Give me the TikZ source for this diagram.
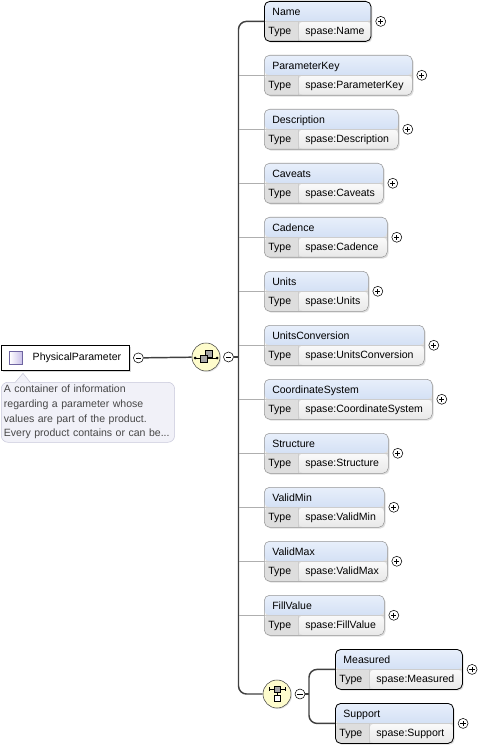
\documentclass[tikz,border=0pt]{standalone}
\usepackage{fontspec}
\setmainfont{Liberation Sans}
\definecolor{xsspine}{RGB}{64,64,64}
\definecolor{xsstub}{RGB}{175,175,175}
\definecolor{xsborder}{RGB}{150,150,150}
\definecolor{xshdrtop}{RGB}{232,239,251}
\definecolor{xshdrbot}{RGB}{192,210,238}
\definecolor{xstype}{RGB}{222,222,222}
\definecolor{xsvaltop}{RGB}{250,250,250}
\definecolor{xsvalbot}{RGB}{232,232,232}
\definecolor{xsrow}{RGB}{205,205,205}
\definecolor{xsyellow}{RGB}{254,252,204}
\definecolor{xslav}{RGB}{200,190,232}
\definecolor{xslavdark}{RGB}{110,100,160}
\definecolor{xsdocfill}{RGB}{241,241,248}
\definecolor{xsdocline}{RGB}{200,200,218}
\definecolor{xsdoctext}{RGB}{70,70,70}
\usetikzlibrary{arrows.meta,positioning,calc,shadows}

\begin{document}
\begin{tikzpicture}[x=0.75pt, y=-0.75pt,
  elbox/.style={
    rectangle, rounded corners=4pt,
    anchor=north west, text width=#1,
    minimum height=30pt, inner xsep=3pt, inner ysep=0pt,
    draw=xsborder, align=left, text height=7.2pt,
    font=\fontsize{7.9}{14.25}\selectfont,
    drop shadow={shadow xshift=1pt, shadow yshift=-1pt, opacity=.25},
    path picture={
      \shade[top color=xshdrtop, bottom color=xshdrbot]
        (path picture bounding box.north west) rectangle (path picture bounding box.east);
      \fill[xstype] (path picture bounding box.south west)
        rectangle ([xshift=25.5pt]path picture bounding box.west);
      \shade[top color=xsvaltop, bottom color=xsvalbot]
        ([xshift=25.5pt]path picture bounding box.west) rectangle (path picture bounding box.south east);
      \draw[xsrow] (path picture bounding box.west) -- (path picture bounding box.east);
      \draw[xsrow] ([xshift=25.5pt]path picture bounding box.west)
        -- ([xshift=25.5pt]path picture bounding box.south west);
    }
  },
  reqbox/.style={elbox=#1, draw=black, semithick},
  plusmark/.style={
    circle, draw=black, fill=white, inner sep=0pt, minimum size=7.5pt,
    path picture={
      \draw[line width=.5pt] ([xshift=-2pt]path picture bounding box.center)
        -- ([xshift=2pt]path picture bounding box.center);
      \draw[line width=.5pt] ([yshift=-2pt]path picture bounding box.center)
        -- ([yshift=2pt]path picture bounding box.center);
    }
  },
  minusmark/.style={
    circle, draw=black, fill=white, inner sep=0pt, minimum size=7.5pt,
    path picture={
      \draw[line width=.5pt] ([xshift=-2pt]path picture bounding box.center)
        -- ([xshift=2pt]path picture bounding box.center);
    }
  },
  compositor/.style={circle, draw=xsspine, fill=xsyellow, minimum size=21pt, inner sep=0pt,
    drop shadow={shadow xshift=.8pt, shadow yshift=-.8pt, opacity=.2}},
  spine/.style={draw=xsspine, line width=1.1pt, rounded corners=6pt},
  stub/.style={draw=xsstub, line width=.6pt}
]
\useasboundingbox (0,0) rectangle (480,748);

% root element and its documentation
\node[rectangle, draw=black, semithick, fill=white, anchor=north west,
  text width=96pt, minimum height=18.75pt, inner sep=0pt, align=left,
  font=\fontsize{7.9}{9}\selectfont,
  drop shadow={shadow xshift=1.2pt, shadow yshift=-1.2pt, opacity=.3}] (pp) at (1,345)
  {\hspace*{23.5pt}PhysicalParameter};
\node[rectangle, draw=xslavdark, left color=white, right color=xslav, minimum size=9.5pt,
  inner sep=0pt] (ppicon) at (16,357.5) {};
\node[minusmark, right=2.5pt of pp] (ppminus) {};

\node[rectangle, rounded corners=5pt, draw=xsdocline, fill=xsdocfill, anchor=north west,
  text width=126pt, minimum height=45pt, inner xsep=2pt, inner ysep=2pt, align=left,
  text=xsdoctext, font=\fontsize{7.9}{11}\selectfont] (ppdoc) at (1,382)
  {A container of information\\regarding a parameter whose\\values are part of the product.\\Every product contains or can be...};
\filldraw[draw=xsdocline, fill=xsdocfill]
  ([xshift=10.5pt, yshift=-.4pt]ppdoc.north west) -- ([xshift=16.5pt, yshift=6.5pt]ppdoc.north west)
  -- ([xshift=22pt, yshift=-.4pt]ppdoc.north west);

% sequence
\node[compositor] (seq) at (206,357) {};
\node[minusmark] (seqminus) at (228.5,357) {};
\begin{scope}[shift={(seq.center)}]
  \draw[black, line width=.6pt] (-11,1) -- (11,1);
  \fill[black] (-11,1) circle (1.5);
  \fill[black] (11,1) circle (1.5);
  \filldraw[draw=black, fill=gray!70, line width=.5pt] (-1,-7) rectangle (6,0);
  \filldraw[draw=black, fill=gray!70, line width=.5pt] (-6,-2) rectangle (1,5);
\end{scope}
\coordinate (spinemid) at (238.5,357);

% child elements
\node[reqbox=74pt] (name) at (264,1)
  {\hspace*{3pt}Name\\\makebox[27.75pt][l]{Type}spase:Name};
\node[plusmark, right=3pt of name] (nameplus) {};

\node[elbox=105pt] (paramkey) at (264,55)
  {\hspace*{3pt}ParameterKey\\\makebox[27.75pt][l]{Type}spase:ParameterKey};
\node[plusmark, right=3pt of paramkey] (paramkeyplus) {};

\node[elbox=94.5pt] (descr) at (264,109)
  {\hspace*{3pt}Description\\\makebox[27.75pt][l]{Type}spase:Description};
\node[plusmark, right=3pt of descr] (descrplus) {};

\node[elbox=83.25pt] (caveats) at (264,163)
  {\hspace*{3pt}Caveats\\\makebox[27.75pt][l]{Type}spase:Caveats};
\node[plusmark, right=3pt of caveats] (caveatsplus) {};

\node[elbox=86.25pt] (cadence) at (264,217)
  {\hspace*{3pt}Cadence\\\makebox[27.75pt][l]{Type}spase:Cadence};
\node[plusmark, right=3pt of cadence] (cadenceplus) {};

\node[elbox=72pt] (units) at (264,271)
  {\hspace*{3pt}Units\\\makebox[27.75pt][l]{Type}spase:Units};
\node[plusmark, right=3pt of units] (unitsplus) {};

\node[elbox=114pt] (unitsconv) at (264,325)
  {\hspace*{3pt}UnitsConversion\\\makebox[27.75pt][l]{Type}spase:UnitsConversion};
\node[plusmark, right=3pt of unitsconv] (unitsconvplus) {};

\node[elbox=120pt] (coordsys) at (264,379)
  {\hspace*{3pt}CoordinateSystem\\\makebox[27.75pt][l]{Type}spase:CoordinateSystem};
\node[plusmark, right=3pt of coordsys] (coordsysplus) {};

\node[elbox=87pt] (structure) at (264,433)
  {\hspace*{3pt}Structure\\\makebox[27.75pt][l]{Type}spase:Structure};
\node[plusmark, right=3pt of structure] (structureplus) {};

\node[elbox=84pt] (validmin) at (264,487)
  {\hspace*{3pt}ValidMin\\\makebox[27.75pt][l]{Type}spase:ValidMin};
\node[plusmark, right=3pt of validmin] (validminplus) {};

\node[elbox=86.25pt] (validmax) at (264,541)
  {\hspace*{3pt}ValidMax\\\makebox[27.75pt][l]{Type}spase:ValidMax};
\node[plusmark, right=3pt of validmax] (validmaxplus) {};

\node[elbox=84pt] (fillvalue) at (264,595)
  {\hspace*{3pt}FillValue\\\makebox[27.75pt][l]{Type}spase:FillValue};
\node[plusmark, right=3pt of fillvalue] (fillvalueplus) {};

% choice
\node[compositor] (choice) at (277,694) {};
\node[minusmark] (choiceminus) at (300,694) {};
\begin{scope}[shift={(choice.center)}]
  \draw[black, line width=.6pt] (-8,-5) -- (8,-5);
  \draw[black, line width=.6pt] (-8,-7) -- (-8,-3);
  \draw[black, line width=.6pt] (8,-7) -- (8,-3);
  \filldraw[draw=black, fill=gray!70, line width=.5pt] (-3,-8) rectangle (3,-2);
  \draw[black, line width=.6pt] (0,-2) -- (0,1);
  \filldraw[draw=black, fill=white, line width=.5pt] (-3,1) rectangle (3,7);
\end{scope}
\coordinate (fork) at (309,694);

\node[reqbox=89.25pt] (measured) at (335,649)
  {\hspace*{3pt}Measured\\\makebox[27.75pt][l]{Type}spase:Measured};
\node[plusmark, right=3pt of measured] (measuredplus) {};

\node[reqbox=82.5pt] (support) at (335,703)
  {\hspace*{3pt}Support\\\makebox[27.75pt][l]{Type}spase:Support};
\node[plusmark, right=3pt of support] (supportplus) {};

% connectors
\draw[spine, rounded corners=0pt] (ppminus) -- (seq);
\draw[spine] (name.west) -| (spinemid) |- (choice);
\draw[spine, rounded corners=0pt] (seqminus) -- (spinemid);
\draw[stub] (paramkey.west) -- (paramkey.west -| spinemid);
\draw[stub] (descr.west) -- (descr.west -| spinemid);
\draw[stub] (caveats.west) -- (caveats.west -| spinemid);
\draw[stub] (cadence.west) -- (cadence.west -| spinemid);
\draw[stub] (units.west) -- (units.west -| spinemid);
\draw[stub] (unitsconv.west) -- (unitsconv.west -| spinemid);
\draw[stub] (coordsys.west) -- (coordsys.west -| spinemid);
\draw[stub] (structure.west) -- (structure.west -| spinemid);
\draw[stub] (validmin.west) -- (validmin.west -| spinemid);
\draw[stub] (validmax.west) -- (validmax.west -| spinemid);
\draw[stub] (fillvalue.west) -- (fillvalue.west -| spinemid);
\draw[spine, rounded corners=0pt] (choiceminus) -- (fork);
\draw[spine] (measured.west) -| (fork) |- (support.west);
\end{tikzpicture}
\end{document}
